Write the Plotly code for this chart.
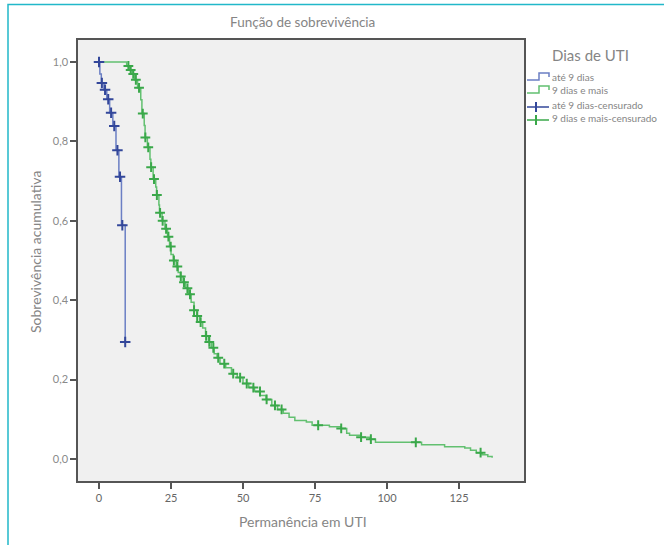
import numpy as np
import plotly.graph_objects as go

# ---------------- data ----------------
# Group "até 9 dias": Kaplan-Meier step curve
blue_t = [0, 0.3, 0.8, 1.7, 2.7, 3.7, 4.8, 5.9, 6.9, 7.8, 9.1]
blue_s = [1.0, 0.97, 0.947, 0.93, 0.906, 0.872, 0.839, 0.778, 0.711, 0.589, 0.295]
blue_cens_t = [0.0, 1.0, 2.1, 3.2, 4.2, 5.3, 6.4, 7.3, 8.1, 9.1]

# Group "9 dias e mais"
green_t = [0, 9.6, 10.6, 11.5, 12.4, 13.4, 14.5, 14.9, 15.7, 16.0, 16.8, 17.7, 18.0,
           18.8, 19.7, 20.0, 20.8, 21.0, 21.9, 22.9, 23.8, 24.5, 25.0, 25.8, 26.8,
           27.5, 28.3, 29.2, 30.0, 31.0, 32.0, 33.0, 34.0, 35.0, 36.0, 37.0, 38.0,
           39.0, 40.0, 41.0, 42.0, 44.0, 46.0, 48.0, 50.0, 52.0, 54.0, 56.0, 58.0,
           60.0, 62.0, 64.0, 66.0, 68.0, 72.0, 74.0, 80.0, 84.0, 86.0, 87.0, 91.0,
           94.0, 96.0, 112.0, 120.0, 127.0, 129.0, 131.0, 133.0, 135.0, 136.5]
green_s = [1.0, 0.99, 0.98, 0.97, 0.955, 0.935, 0.905, 0.87, 0.84, 0.81, 0.785, 0.755, 0.735,
           0.705, 0.685, 0.665, 0.64, 0.62, 0.60, 0.58, 0.56, 0.535, 0.515, 0.50, 0.485,
           0.47, 0.46, 0.445, 0.43, 0.415, 0.395, 0.375, 0.36, 0.345, 0.33, 0.31, 0.295,
           0.28, 0.265, 0.255, 0.24, 0.23, 0.215, 0.205, 0.19, 0.18, 0.17, 0.16, 0.15,
           0.135, 0.125, 0.115, 0.105, 0.097, 0.093, 0.085, 0.081, 0.077, 0.065, 0.06, 0.055,
           0.05, 0.042, 0.036, 0.031, 0.028, 0.022, 0.016, 0.011, 0.006, 0.003]
green_cens_t = [10.2, 11.0, 11.9, 12.8, 13.9, 15.2, 16.1, 17.1, 18.1, 19.1, 20.1, 21.2,
                22.1, 23.3, 24.1, 24.9, 26.0, 27.2, 28.4, 29.5, 30.7, 31.6, 33.0, 34.1,
                35.3, 37.2, 38.3, 39.7, 41.4, 43.5, 46.6, 49.0, 51.3, 53.6, 55.9, 58.2,
                61.1, 63.4, 76.1, 84.1, 91.0, 94.4, 110.0, 132.5]

x_ticks = [0, 25, 50, 75, 100, 125]
y_ticks = [0.0, 0.2, 0.4, 0.6, 0.8, 1.0]

legend_title = "Dias de UTI"
legend_labels = ["até 9 dias", "9 dias e mais", "até 9 dias-censurado", "9 dias e mais-censurado"]

BLUE_LINE = "#6b7fc4"
BLUE_MARK = "#33479a"
GREEN_LINE = "#62c070"
GREEN_MARK = "#3aa84a"
GREY = "#858585"
FONT = "Lato"


def step_value(times, surv, t):
    idx = np.searchsorted(np.asarray(times), t, side="right") - 1
    return [surv[i] for i in idx]


blue_cens_s = step_value(blue_t, blue_s, blue_cens_t)
green_cens_s = step_value(green_t, green_s, green_cens_t)

fig = go.Figure()
fig.add_trace(go.Scatter(x=green_t, y=green_s, mode="lines", line=dict(shape="hv", color=GREEN_LINE, width=1.5),
                         showlegend=False, name=legend_labels[1]))
fig.add_trace(go.Scatter(x=blue_t, y=blue_s, mode="lines", line=dict(shape="hv", color=BLUE_LINE, width=1.5),
                         showlegend=False, name=legend_labels[0]))
fig.add_trace(go.Scatter(x=green_cens_t, y=green_cens_s, mode="markers",
                         marker=dict(symbol="cross-thin", size=7, line=dict(width=2, color=GREEN_MARK)),
                         showlegend=False, name=legend_labels[3]))
fig.add_trace(go.Scatter(x=blue_cens_t, y=blue_cens_s, mode="markers",
                         marker=dict(symbol="cross-thin", size=7.5, line=dict(width=2, color=BLUE_MARK)),
                         showlegend=False, name=legend_labels[2]))

# plot area in pixels
L, R, T, B = 78, 524, 40, 481
W, H = 664, 545


def px(x):
    return (x - L) / (R - L)


def py(y):
    return (B - y) / (B - T)


shapes = []
annotations = []
# cyan outer frame
shapes.append(dict(type="rect", xref="paper", yref="paper", x0=px(8), x1=px(700), y0=py(600), y1=py(4.5),
                   line=dict(color="#22b8c9", width=1.5), fillcolor="rgba(0,0,0,0)", layer="below"))

# manual legend
annotations.append(dict(text=legend_title, x=px(590), y=py(55), xref="paper", yref="paper", showarrow=False,
                        xanchor="center", yanchor="middle", font=dict(family=FONT, size=15, color=GREY)))
item_y = [79, 92, 107, 120]
cols = [BLUE_LINE, GREEN_LINE, BLUE_MARK, GREEN_MARK]
for i, (lab, yy, c) in enumerate(zip(legend_labels, item_y, cols)):
    annotations.append(dict(text=lab, x=px(550), y=py(yy - 2), xref="paper", yref="paper", showarrow=False,
                            xanchor="left", yanchor="middle", font=dict(family=FONT, size=10, color=GREY)))
    if i < 2:
        path = "M {} {} L {} {} L {} {} L {} {} L {} {}".format(
            px(527), py(yy + 1), px(539), py(yy + 1), px(539), py(yy - 6), px(549), py(yy - 6), px(549), py(yy - 2))
        shapes.append(dict(type="path", xref="paper", yref="paper", path=path, line=dict(color=c, width=1.5)))
    else:
        shapes.append(dict(type="line", xref="paper", yref="paper", x0=px(527), x1=px(549), y0=py(yy), y1=py(yy),
                           line=dict(color=c, width=1.5)))
        shapes.append(dict(type="line", xref="paper", yref="paper", x0=px(536), x1=px(536), y0=py(yy - 5),
                           y1=py(yy + 5), line=dict(color=c, width=2)))

# axis titles
annotations.append(dict(text="Permanência em UTI", x=px(303), y=py(521), xref="paper", yref="paper",
                        showarrow=False, xanchor="center", yanchor="middle",
                        font=dict(family=FONT, size=14, color=GREY)))
annotations.append(dict(text="Sobrevivência acumulativa", x=px(35), y=py(252), xref="paper", yref="paper",
                        showarrow=False, xanchor="center", yanchor="middle", textangle=-90,
                        font=dict(family=FONT, size=14, color=GREY)))
annotations.append(dict(text="Função de sobrevivência", x=px(302), y=py(22), xref="paper", yref="paper",
                        showarrow=False, xanchor="center", yanchor="middle",
                        font=dict(family=FONT, size=13.5, color=GREY)))

fig.update_layout(
    width=W, height=H,
    margin=dict(l=L, r=W - R, t=T, b=H - B, pad=0),
    paper_bgcolor="white", plot_bgcolor="#f0f0f0",
    separators=",.",
    shapes=shapes, annotations=annotations,
    font=dict(family=FONT, color=GREY),
    xaxis=dict(range=[-(99 - L) / 2.88, (R - 99) / 2.88], tickvals=x_ticks, ticks="outside", ticklen=6,
               tickwidth=2, tickcolor="#555", showgrid=False, zeroline=False, showline=True, linecolor="#555",
               linewidth=1.5, mirror=True, tickfont=dict(family=FONT, size=11, color="#666666")),
    yaxis=dict(range=[-(B - 459) / 397, 1 + (62 - T) / 397], tickvals=y_ticks, tickformat=".1f", ticks="outside",
               ticklen=6, tickwidth=2, tickcolor="#555", showgrid=False, zeroline=False, showline=True,
               linecolor="#555", linewidth=1.5, mirror=True, tickfont=dict(family=FONT, size=11, color="#8a8a8a")),
    showlegend=False,
)

fig.write_html("out.html", config={"displayModeBar": False},
               post_script="document.body.style.margin='0';document.body.style.overflow='hidden';")
